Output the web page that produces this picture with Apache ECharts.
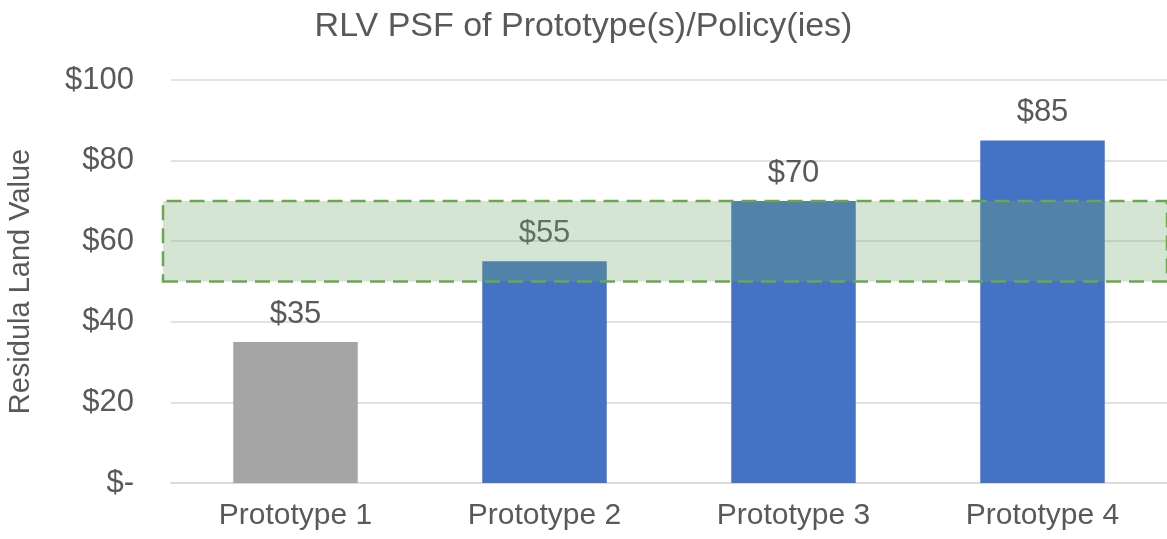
<!DOCTYPE html>
<html>
<head>
<meta charset="utf-8">
<script src="https://cdn.jsdelivr.net/npm/echarts@6/dist/echarts.min.js"></script>
<style>
html,body{margin:0;padding:0;background:#fff;}
#chart{width:1167px;height:539px;}
</style>
</head>
<body>
<div id="chart"></div>
<script>
const categories = ['Prototype 1', 'Prototype 2', 'Prototype 3', 'Prototype 4'];
const values = [35, 55, 70, 85];
const barColors = ['#A5A5A5', '#4472C4', '#4472C4', '#4472C4'];
const yTicks = [0, 20, 40, 60, 80, 100];
const bandRange = [50, 70];
const titleText = 'RLV PSF of Prototype(s)/Policy(ies)';
const yAxisName = 'Residula Land Value';

const font = '"Liberation Sans", Arial, sans-serif';
const txt = '#595959';
const chart = echarts.init(document.getElementById('chart'));
chart.setOption({
  animation: false,
  backgroundColor: '#fff',
  title: {
    text: titleText, left: 'center', top: 5,
    textStyle: { fontFamily: font, fontSize: 34, fontWeight: 'normal', color: txt }
  },
  grid: [
    { left: 171, right: 0, top: 80, bottom: 56, containLabel: false, outerBoundsMode: 'none' },
    { left: 163, right: 0, top: 80, bottom: 56, containLabel: false, outerBoundsMode: 'none' }
  ],
  xAxis: [
    {
      type: 'category', data: categories, gridIndex: 0,
      axisLine: { lineStyle: { color: '#D9D9D9', width: 1.5 } },
      axisTick: { show: false },
      axisLabel: { fontFamily: font, fontSize: 30, color: txt, margin: 18 }
    },
    { type: 'value', gridIndex: 1, show: false, min: 0, max: 1 }
  ],
  yAxis: [
    {
      type: 'value', gridIndex: 0, min: 0, max: 100, interval: 20,
      name: yAxisName, nameLocation: 'middle', nameGap: 136,
      nameTextStyle: { fontFamily: font, fontSize: 29, color: txt },
      axisLine: { show: false }, axisTick: { show: false },
      splitLine: { lineStyle: { color: '#D9D9D9', width: 1.5 } },
      axisLabel: {
        fontFamily: font, fontSize: 31, color: txt, margin: 37,
        formatter: v => yTicks.includes(v) ? (v === 0 ? '$-' : '$' + v) : ''
      }
    },
    { type: 'value', gridIndex: 1, min: 0, max: 100, show: false }
  ],
  series: [
    {
      type: 'bar', xAxisIndex: 0, yAxisIndex: 0, barWidth: '50%', z: 2,
      data: values.map((v, i) => ({ value: v, itemStyle: { color: barColors[i] } })),
      label: {
        show: true, position: 'top', distance: 12,
        fontFamily: font, fontSize: 31, color: txt,
        formatter: p => '$' + p.value
      }
    },
    {
      type: 'line', xAxisIndex: 1, yAxisIndex: 1, data: [], z: 5,
      markArea: {
        silent: true, z: 10,
        itemStyle: {
          color: 'rgba(112,168,110,0.3)',
          borderColor: '#6AA84F', borderWidth: 2.5, borderType: [15, 8]
        },
        label: { show: false },
        data: [[{ yAxis: bandRange[0] }, { yAxis: bandRange[1] }]]
      }
    }
  ]
});
</script>
</body>
</html>
